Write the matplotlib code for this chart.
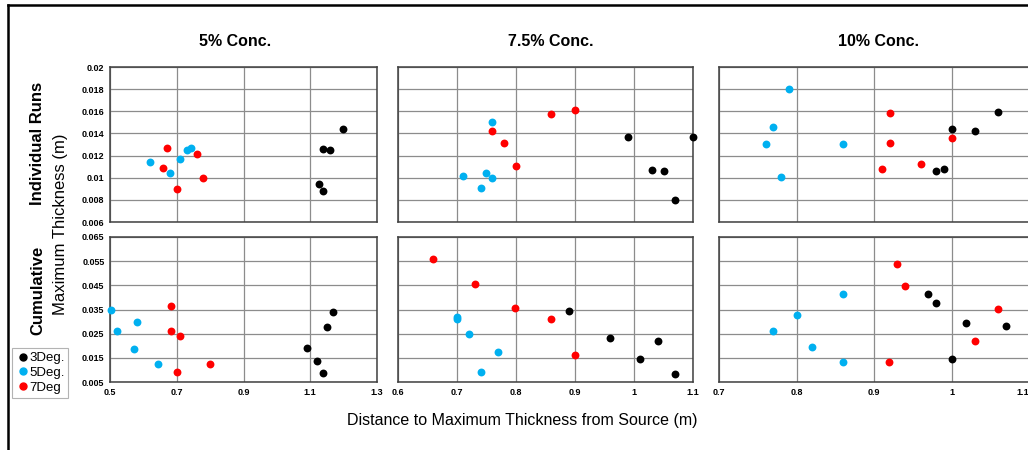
import matplotlib
matplotlib.use("Agg")
import matplotlib.pyplot as plt
from matplotlib.lines import Line2D
import numpy as np

plt.rcParams['font.family'] = ['Liberation Sans', 'DejaVu Sans']

# ---------------- data ----------------
col_titles = ["5% Conc.", "7.5% Conc.", "10% Conc."]
row_titles = ["Individual Runs", "Cumulative"]
series_names = ["3Deg.", "5Deg.", "7Deg"]
series_colors = ["#000000", "#00B0F0", "#FF0000"]

# Individual runs, 5%
ind5_3_x = [1.197, 1.137, 1.159, 1.127, 1.137]
ind5_3_y = [0.01437, 0.01259, 0.01247, 0.00943, 0.00883]
ind5_5_x = [0.620, 0.680, 0.711, 0.730, 0.742]
ind5_5_y = [0.01142, 0.01043, 0.01169, 0.01247, 0.01271]
ind5_7_x = [0.671, 0.660, 0.761, 0.780, 0.701]
ind5_7_y = [0.01271, 0.01091, 0.01211, 0.01000, 0.00901]

# Individual runs, 7.5%
ind75_3_x = [0.989, 1.100, 1.030, 1.050, 1.069]
ind75_3_y = [0.01372, 0.01372, 0.01072, 0.01060, 0.00799]
ind75_5_x = [0.760, 0.710, 0.750, 0.760, 0.741]
ind75_5_y = [0.01504, 0.01020, 0.01041, 0.01001, 0.00903]
ind75_7_x = [0.760, 0.780, 0.800, 0.860, 0.900]
ind75_7_y = [0.01424, 0.01311, 0.01102, 0.01574, 0.01614]

# Individual runs, 10%
ind10_3_x = [1.060, 1.000, 1.030, 0.980, 0.990]
ind10_3_y = [0.01594, 0.01437, 0.01425, 0.01065, 0.01077]
ind10_5_x = [0.790, 0.770, 0.760, 0.860, 0.780]
ind10_5_y = [0.01803, 0.01462, 0.01305, 0.01305, 0.01003]
ind10_7_x = [0.920, 0.920, 0.910, 0.960, 1.000]
ind10_7_y = [0.01585, 0.01314, 0.01077, 0.01123, 0.01363]

# Cumulative, 5%
cum5_3_x = [1.168, 1.149, 1.090, 1.119, 1.138]
cum5_3_y = [0.03417, 0.02792, 0.01889, 0.01375, 0.00875]
cum5_5_x = [0.503, 0.522, 0.581, 0.572, 0.643]
cum5_5_y = [0.03472, 0.02597, 0.02972, 0.01875, 0.01264]
cum5_7_x = [0.682, 0.682, 0.711, 0.800, 0.701]
cum5_7_y = [0.03653, 0.02611, 0.02403, 0.01264, 0.00903]

# Cumulative, 7.5%
cum75_3_x = [0.890, 0.960, 1.040, 1.010, 1.070]
cum75_3_y = [0.03438, 0.02321, 0.02210, 0.01466, 0.00831]
cum75_5_x = [0.700, 0.700, 0.720, 0.770, 0.740]
cum75_5_y = [0.03203, 0.03107, 0.02486, 0.01728, 0.00928]
cum75_7_x = [0.660, 0.730, 0.799, 0.859, 0.900]
cum75_7_y = [0.05603, 0.04555, 0.03576, 0.03093, 0.01631]

# Cumulative, 10%
cum10_3_x = [0.970, 0.980, 1.019, 1.070, 1.000]
cum10_3_y = [0.04141, 0.03769, 0.02928, 0.02817, 0.01452]
cum10_5_x = [0.860, 0.800, 0.770, 0.820, 0.860]
cum10_5_y = [0.04155, 0.03286, 0.02624, 0.01948, 0.01328]
cum10_7_x = [0.930, 0.940, 1.060, 1.030, 0.919]
cum10_7_y = [0.05397, 0.04486, 0.03521, 0.02197, 0.01328]

# axis ranges / ticks
x_ticks = [[0.5, 0.7, 0.9, 1.1, 1.3],
           [0.6, 0.7, 0.8, 0.9, 1.0, 1.1],
           [0.7, 0.8, 0.9, 1.0, 1.1]]
y_ticks_ind = [0.006, 0.008, 0.010, 0.012, 0.014, 0.016, 0.018, 0.020]
y_ticks_cum = [0.005, 0.015, 0.025, 0.035, 0.045, 0.055, 0.065]

panels = [
    [[(ind5_3_x, ind5_3_y), (ind5_5_x, ind5_5_y), (ind5_7_x, ind5_7_y)],
     [(ind75_3_x, ind75_3_y), (ind75_5_x, ind75_5_y), (ind75_7_x, ind75_7_y)],
     [(ind10_3_x, ind10_3_y), (ind10_5_x, ind10_5_y), (ind10_7_x, ind10_7_y)]],
    [[(cum5_3_x, cum5_3_y), (cum5_5_x, cum5_5_y), (cum5_7_x, cum5_7_y)],
     [(cum75_3_x, cum75_3_y), (cum75_5_x, cum75_5_y), (cum75_7_x, cum75_7_y)],
     [(cum10_3_x, cum10_3_y), (cum10_5_x, cum10_5_y), (cum10_7_x, cum10_7_y)]],
]

# ---------------- layout ----------------
W, H = 1028, 450
fig = plt.figure(figsize=(W / 100, H / 100), dpi=100)

col_px = [(110, 377), (398, 693), (719, 1029)]
row_px = [(67, 222), (237, 382)]


def fmt(v):
    s = f"{round(v, 4):g}"
    return s


for r in range(2):
    for c in range(3):
        x0, x1 = col_px[c]
        yt, yb = row_px[r]
        ax = fig.add_axes([x0 / W, 1 - yb / H, (x1 - x0) / W, (yb - yt) / H])
        yticks = y_ticks_ind if r == 0 else y_ticks_cum
        xt = x_ticks[c]
        ax.set_xlim(xt[0], xt[-1])
        ax.set_ylim(yticks[0], yticks[-1])
        ax.set_xticks(xt)
        ax.set_yticks(yticks)
        ax.grid(True, color="#8c8c8c", linewidth=0.9)
        ax.set_axisbelow(True)
        for sp in ax.spines.values():
            sp.set_color("#404040")
            sp.set_linewidth(1.1)
        ax.tick_params(length=0, labelsize=6.5, pad=4)
        if c == 0:
            ax.set_yticklabels([fmt(v) for v in yticks], fontweight="bold")
        else:
            ax.set_yticklabels([])
        if r == 1:
            labs = ax.set_xticklabels([fmt(v) for v in xt], fontweight="bold")
            if c == 2:
                labs[-1].set_horizontalalignment("right")
        else:
            ax.set_xticklabels([])
        for (xs, ys), col, name in zip(panels[r][c], series_colors, series_names):
            ax.scatter(xs, ys, s=32, color=col, zorder=3, clip_on=False,
                       label=name, linewidths=0)
        if r == 1 and c == 0:
            handles = [Line2D([], [], marker="o", linestyle="none", color=cc,
                              markersize=5) for cc in series_colors]
            leg = fig.legend(handles, series_names, loc="upper left",
                             bbox_to_anchor=(12 / W, 1 - 348 / H),
                             fontsize=9.5, frameon=True, fancybox=False,
                             handletextpad=0.0, handlelength=1.0,
                             labelspacing=0.2, borderpad=0.3,
                             borderaxespad=0.0)
            leg.get_frame().set_edgecolor("#a0a0a0")
            leg.get_frame().set_linewidth(0.8)

# column titles
title_x = [235, 551, 878]
for t, xx in zip(col_titles, title_x):
    fig.text(xx / W, 1 - 42 / H, t, ha="center", va="center",
             fontsize=11.5, fontweight="bold")

# row titles
fig.text(38 / W, 1 - 143 / H, row_titles[0], rotation=90, ha="center",
         va="center", fontsize=12, fontweight="bold")
fig.text(38 / W, 1 - 290 / H, row_titles[1], rotation=90, ha="center",
         va="center", fontsize=12, fontweight="bold")
fig.text(61 / W, 1 - 224 / H, "Maximum Thickness (m)", rotation=90,
         ha="center", va="center", fontsize=12)

# x label
fig.text(522 / W, 1 - 421 / H, "Distance to Maximum Thickness from Source (m)",
         ha="center", va="center", fontsize=11.5)

# outer frame lines (left & top)
fig.add_artist(Line2D([8 / W, 8 / W], [0, 1 - 5 / H], color="black",
                      linewidth=1.8, transform=fig.transFigure))
fig.add_artist(Line2D([8 / W, 1], [1 - 5 / H, 1 - 5 / H], color="black",
                      linewidth=1.8, transform=fig.transFigure))

fig.savefig("out.png", dpi=100, facecolor="white")
